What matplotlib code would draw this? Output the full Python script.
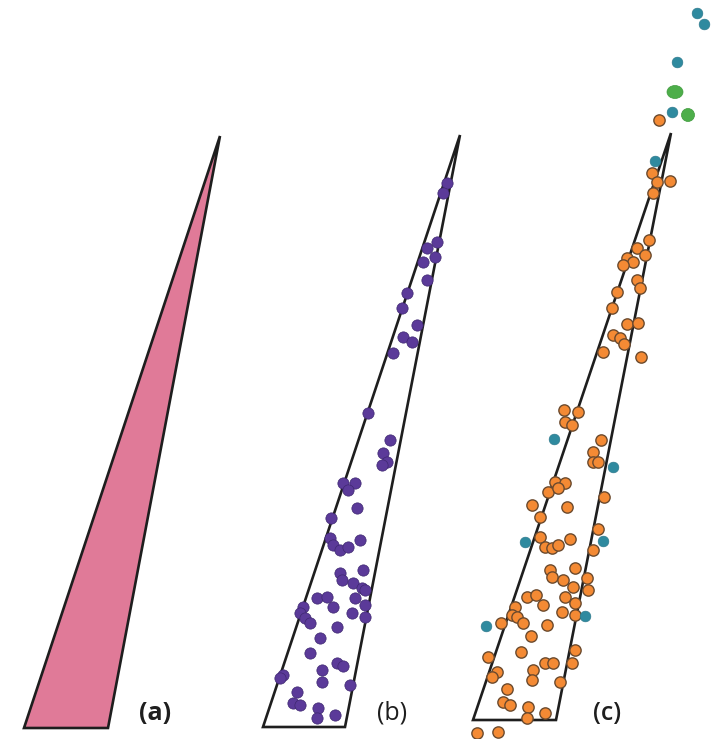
import matplotlib
matplotlib.use("Agg")
import matplotlib.pyplot as plt
from matplotlib.patches import Polygon, Ellipse

# Panel outlines (image pixel coordinates: x right, y down)
shape_a = [(24, 728), (108, 728), (220, 136)]
shape_b = [(263, 727), (345, 727), (460, 135)]
shape_c = [(473, 720), (556, 720), (671, 133)]

# Panel (b) purple points
b_x = [447, 443, 437, 427, 435, 423, 427, 407, 402, 417, 403, 412, 393, 368,
       390, 383, 387, 382, 343, 355, 348, 357, 331, 330, 333, 340, 348, 360,
       363, 340, 342, 353, 362, 365, 355, 317, 327, 333, 365, 352, 365, 303,
       300, 305, 310, 337, 320, 310, 337, 343, 322, 322, 350, 283, 280, 297,
       293, 300, 318, 317, 335]
b_y = [183, 193, 242, 248, 257, 262, 280, 293, 308, 325, 337, 342, 353, 413,
       440, 453, 462, 465, 483, 483, 490, 508, 518, 538, 545, 550, 547, 540,
       570, 573, 580, 583, 588, 590, 598, 598, 597, 607, 605, 613, 617, 607,
       613, 618, 623, 627, 638, 653, 663, 666, 670, 682, 685, 675, 678, 692,
       703, 705, 708, 718, 715]

# Panel (c) orange points
c_orange_x = [659, 652, 657, 670, 653, 649, 637, 645, 627, 633, 623, 637, 640,
              617, 612, 627, 638, 613, 620, 624, 603, 641, 564, 578, 565, 572,
              601, 593, 593, 598, 555, 565, 548, 558, 604, 532, 567, 540, 598,
              540, 545, 552, 558, 570, 593, 575, 550, 552, 563, 587, 573, 588,
              527, 536, 565, 543, 575, 515, 512, 517, 523, 562, 575, 501, 547,
              531, 488, 521, 575, 545, 553, 572, 497, 492, 533, 532, 560, 507,
              503, 510, 528, 545, 527, 477, 498]
c_orange_y = [120, 173, 182, 181, 193, 240, 248, 255, 258, 262, 265, 280, 288,
              292, 308, 324, 323, 335, 338, 344, 352, 357, 410, 412, 422, 425,
              440, 452, 462, 462, 482, 483, 492, 488, 497, 505, 507, 517, 529,
              537, 547, 548, 545, 539, 550, 568, 570, 577, 580, 578, 587, 590,
              597, 595, 597, 605, 603, 607, 615, 617, 623, 612, 615, 623, 625,
              636, 657, 652, 650, 663, 663, 663, 672, 677, 670, 680, 682, 689,
              702, 705, 707, 713, 718, 733, 732]

# Panel (c) teal points
c_teal_x = [697, 704, 677, 672, 655, 554, 613, 525, 603, 585, 486]
c_teal_y = [13, 24, 62, 112, 161, 439, 467, 542, 541, 616, 626]

# Panel (c) green points
c_green_x = [675, 688]
c_green_y = [92, 115]

labels = ["(a)", "(b)", "(c)"]
label_x = [155, 392, 607]
label_y = [713, 713, 713]
label_weights = ["bold", "normal", "semibold"]

W, H = 719, 739
fig = plt.figure(figsize=(W / 100, H / 100), dpi=100)
ax = fig.add_axes([0, 0, 1, 1])
ax.set_xlim(0, W)
ax.set_ylim(H, 0)
ax.axis("off")

edge = "#1e1e1e"
ax.add_patch(Polygon(shape_a, closed=True, facecolor="#E07A98",
                     edgecolor=edge, lw=1.9, joinstyle="miter"))
ax.add_patch(Polygon(shape_b, closed=True, facecolor="none",
                     edgecolor=edge, lw=1.9, zorder=1))
ax.add_patch(Polygon(shape_c, closed=True, facecolor="none",
                     edgecolor=edge, lw=1.9, zorder=1))

ax.scatter(b_x, b_y, s=66, color="#5B3A99", edgecolor="#3E2870",
           linewidth=0.5, zorder=3)
ax.scatter(c_orange_x, c_orange_y, s=66, color="#F48A34",
           edgecolor="#6B4A2E", linewidth=1.0, zorder=3)
ax.scatter(c_teal_x, c_teal_y, s=60, color="#2F8A9F",
           edgecolor="#2A7588", linewidth=0.4, zorder=3)
for i, (gx, gy) in enumerate(zip(c_green_x, c_green_y)):
    w, h = (16, 13) if i == 0 else (13, 13)
    ax.add_patch(Ellipse((gx, gy), w, h, facecolor="#4DAE4A",
                         edgecolor="#3E9A3C", lw=0.5, zorder=3))

for t, x, y, wgt in zip(labels, label_x, label_y, label_weights):
    ax.text(x, y, t, fontsize=18, fontweight=wgt, family="Open Sans",
            color="#1e1e1e", ha="center", va="center")

fig.savefig("out.png", dpi=100, facecolor="white")
